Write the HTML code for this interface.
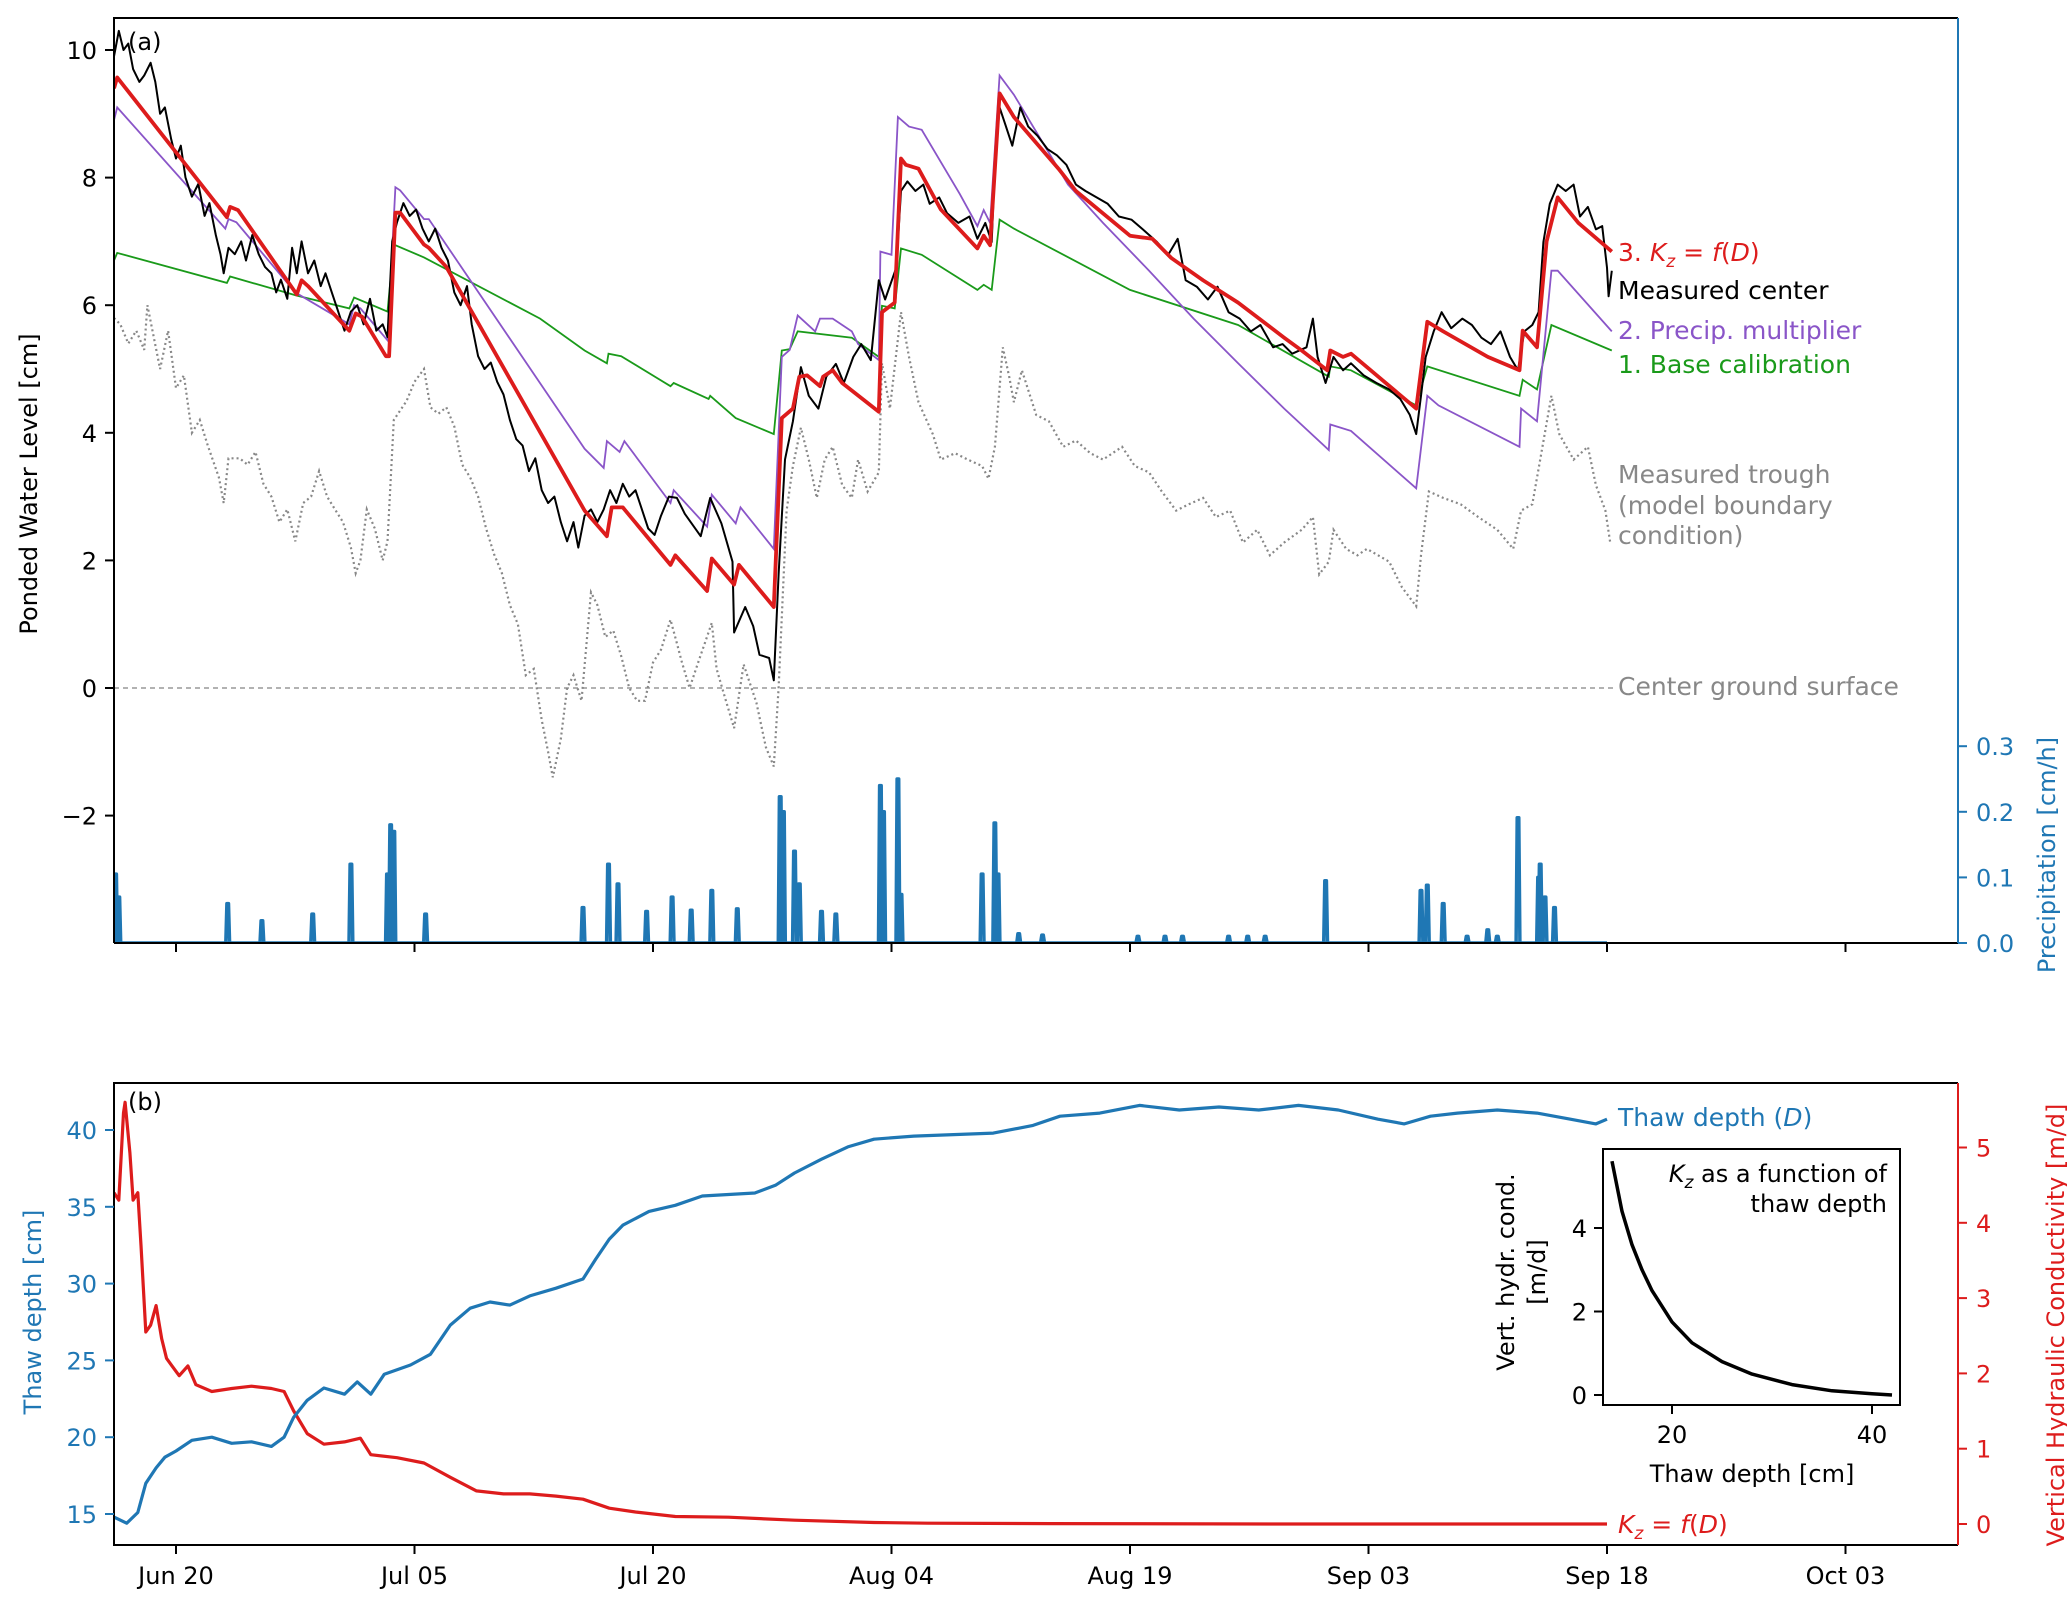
<!DOCTYPE html>
<html><head><meta charset="utf-8">
<style>
html,body{margin:0;padding:0;background:#fff;}
svg{display:block;font-family:"DejaVu Sans","Liberation Sans",sans-serif;}
</style></head>
<body>
<svg id="fig" width="2067" height="1602" viewBox="0 0 2067 1602" xmlns="http://www.w3.org/2000/svg">
<defs>
<clipPath id="clipA"><rect x="114" y="18" width="1844" height="925"/></clipPath>
<clipPath id="clipB"><rect x="114" y="1083" width="1844" height="462"/></clipPath>
</defs>
<g id="panelA"></g>
<g id="panelB"></g>
</svg>
<script>
// ---------- DATA ----------
const dateTickLabels = ['Jun 20','Jul 05','Jul 20','Aug 04','Aug 19','Sep 03','Sep 18','Oct 03'];
const dateTickDays = [0,15,30,45,60,75,90,105];
const levelTicks = [-2,0,2,4,6,8,10];
const precipTicks = [0.0,0.1,0.2,0.3];
const thawTicks = [15,20,25,30,35,40];
const kzTicks = [0,1,2,3,4,5];

const redDays = [-3.9,-3.7,3.2,3.4,3.9,7.6,7.9,8.3,10.9,11.3,11.7,13.2,13.4,13.8,14.1,15.6,15.9,17,25.7,27.1,27.4,28.1,31.1,31.4,33.4,33.7,35.1,35.4,37.6,38.1,38.8,39.2,39.7,40.5,40.7,41.3,41.9,44.2,44.4,45.2,45.6,45.9,46.7,48.1,50.4,50.8,51.2,51.8,52.7,55.5,56.6,60,61.4,62.6,64.6,66.8,69.7,70.8,72.4,72.6,73.4,73.9,78,78.7,79.7,82.5,84.5,84.7,85.6,86.2,86.9,88.2,90.3];
const redVals = [9.4,9.57,7.38,7.54,7.49,6.17,6.39,6.3,5.6,5.87,5.82,5.2,5.2,7.45,7.45,6.95,6.9,6.6,2.78,2.38,2.83,2.83,1.93,2.08,1.52,2.03,1.62,1.93,1.27,4.23,4.38,4.88,4.9,4.73,4.88,4.98,4.78,4.33,5.89,6.04,8.3,8.2,8.14,7.5,6.89,7.09,6.94,9.32,8.95,8.14,7.79,7.09,7.04,6.74,6.39,6.04,5.49,5.29,4.98,5.29,5.19,5.24,4.38,5.74,5.59,5.19,4.98,5.6,5.34,7.0,7.69,7.29,6.84];

const blackDays = [-3.9,-3.6,-3.3,-3.0,-2.7,-2.3,-2.0,-1.6,-1.3,-1.0,-0.7,-0.3,0,0.3,0.6,1,1.4,1.8,2.1,2.5,2.8,3.0,3.3,3.7,4.1,4.4,4.8,5.2,5.6,6.0,6.3,6.6,7.0,7.3,7.6,7.9,8.3,8.7,9.1,9.4,9.8,10.2,10.6,11.0,11.4,11.8,12.2,12.6,13.0,13.3,13.6,13.9,14.3,14.7,15.1,15.5,15.9,16.3,16.7,17.1,17.5,17.9,18.3,18.6,19.0,19.4,19.8,20.2,20.6,21.0,21.4,21.8,22.2,22.6,23.0,23.4,23.8,24.2,24.6,25.0,25.3,25.7,26.1,26.5,26.9,27.3,27.7,28.1,28.5,28.9,29.3,29.7,30.1,30.5,31.0,31.5,32,33,33.6,34.3,35,35.1,35.8,36.3,36.7,37.3,37.6,37.9,38.3,38.8,39.3,39.8,40.4,40.9,41.5,42,42.6,43.1,43.7,44.2,44.6,45.3,45.6,46,46.5,47,47.4,48,48.5,49.2,49.9,50.4,50.9,51.3,51.5,51.8,52.2,52.6,53.1,53.6,54.2,54.8,55.4,56,56.6,57.2,57.9,58.6,59.3,60.1,60.8,61.7,62.4,63,63.5,64.2,64.9,65.5,66.2,66.9,67.6,68.2,69,69.6,70.2,71.1,71.5,71.8,72.3,72.8,73.4,73.9,74.7,75.5,76.3,77,77.6,78,78.3,78.6,79.1,79.6,80.2,80.9,81.5,82.1,82.7,83.3,83.9,84.4,84.8,85.3,85.7,86,86.4,86.9,87.4,87.9,88.3,88.8,89.3,89.7,90,90.1,90.3];
const blackVals = [9.9,10.3,10.0,10.1,9.7,9.5,9.6,9.8,9.5,9.0,9.1,8.6,8.3,8.5,8.0,7.7,7.9,7.4,7.6,7.1,6.8,6.5,6.9,6.8,7.0,6.7,7.1,6.8,6.6,6.5,6.2,6.4,6.1,6.9,6.5,7.0,6.5,6.7,6.3,6.5,6.2,5.9,5.6,5.9,6.0,5.7,6.1,5.6,5.7,5.5,7.0,7.3,7.6,7.4,7.5,7.2,7.0,7.2,6.9,6.7,6.2,6.0,6.3,5.7,5.2,5.0,5.1,4.8,4.6,4.2,3.9,3.8,3.4,3.6,3.1,2.9,3.0,2.6,2.3,2.6,2.2,2.7,2.8,2.6,2.8,3.1,2.9,3.2,3.0,3.1,2.8,2.5,2.4,2.7,3.0,2.98,2.73,2.38,2.98,2.58,1.98,0.87,1.27,0.97,0.52,0.47,0.12,1.78,3.58,4.18,5.03,4.58,4.38,4.88,5.08,4.78,5.19,5.39,5.14,6.39,6.09,6.59,7.79,7.94,7.79,7.89,7.59,7.69,7.44,7.29,7.39,7.04,7.29,6.99,8.2,9.1,8.8,8.5,9.1,8.8,8.65,8.45,8.35,8.2,7.89,7.79,7.69,7.59,7.39,7.34,7.19,6.99,6.79,7.04,6.39,6.29,6.09,6.29,5.89,5.79,5.59,5.69,5.34,5.39,5.24,5.34,5.79,5.19,4.78,5.19,4.98,5.09,4.9,4.78,4.68,4.53,4.28,3.98,4.58,5.19,5.59,5.89,5.64,5.79,5.69,5.49,5.39,5.59,5.19,4.98,5.59,5.69,5.89,6.99,7.59,7.89,7.79,7.89,7.39,7.54,7.19,7.24,6.59,6.14,6.54];

const purpleDays = [-3.9,-3.7,3.1,3.3,3.8,7.5,10.9,11.2,11.6,13.3,13.8,14.1,15.6,15.9,25.7,26.9,27.1,27.9,28.2,31.1,31.3,33.4,33.7,35.2,35.5,37.6,38.1,38.6,39.1,40.2,40.5,41.3,42.5,42.9,44.2,44.3,45.0,45.4,46.1,46.9,49.3,50.4,50.8,51.2,51.8,52.7,56.1,58.3,61.2,64,66.8,69.7,72.5,72.6,73.9,78,78.7,79.4,84.5,84.6,85.6,86.5,86.9,90.3];
const purpleVals = [8.9,9.1,7.2,7.35,7.3,6.2,5.7,6.0,5.95,5.45,7.85,7.8,7.35,7.35,3.75,3.45,3.87,3.7,3.87,2.9,3.1,2.53,3.03,2.58,2.83,2.18,5.19,5.3,5.84,5.59,5.79,5.79,5.59,5.39,5.14,6.84,6.79,8.95,8.8,8.75,7.74,7.24,7.49,7.29,9.6,9.3,7.89,7.29,6.54,5.79,5.09,4.38,3.73,4.13,4.03,3.13,4.58,4.43,3.78,4.38,4.18,6.54,6.54,5.59];

const greenDays = [-3.9,-3.7,3.2,3.4,7.6,10.9,11.2,13.3,13.7,15.6,22.9,25.7,27.1,27.2,28,31.1,31.3,33.5,33.6,35.2,37.6,38.1,38.6,39.1,42.5,44.2,44.4,45.2,45.6,46.9,50.4,50.8,51.3,51.8,52.7,60,66.8,72.5,72.6,73.9,78,78.7,84.5,84.7,85.6,86.5,90.3];
const greenVals = [6.7,6.82,6.35,6.45,6.15,5.95,6.12,5.9,6.95,6.75,5.79,5.29,5.09,5.24,5.2,4.73,4.78,4.53,4.58,4.23,3.98,5.29,5.31,5.59,5.49,5.19,5.99,5.95,6.89,6.79,6.24,6.32,6.24,7.34,7.2,6.24,5.69,4.88,5.04,4.98,4.43,5.04,4.58,4.83,4.68,5.69,5.29];

const troughDays = [-3.9,-3.5,-3,-2.5,-2,-1.8,-1,-0.5,0,0.5,1,1.5,2,2.7,3,3.3,4,4.5,5,5.5,6,6.5,7,7.5,8,8.5,9,9.5,10,10.5,11,11.3,11.6,12,12.5,13,13.3,13.7,14.5,15,15.6,16,16.5,17,17.5,18,18.5,19,19.5,20,20.5,21,21.5,22,22.5,23,23.4,23.7,24.2,24.6,25,25.5,26.1,26.5,27,27.5,28,28.5,29,29.5,30,30.5,31.1,31.5,31.8,32.3,32.8,33.7,34,34.5,35.1,35.7,36.5,37.1,37.6,37.9,38.4,38.8,39.3,39.8,40.3,40.8,41.3,41.9,42.5,42.9,43.5,44.2,44.4,44.9,45.6,46.1,46.7,47.6,48.1,49,49.8,50.7,51.1,51.5,52,52.4,52.7,53.2,54.1,54.9,55.8,56.6,57.5,58.3,59.5,60.3,61.2,62,62.9,63.7,64.6,65.4,66.3,67.1,68,68.8,69.7,70.8,71.5,71.9,72.5,72.8,73.6,74.3,74.9,76.3,77.1,78,78.3,78.8,79.7,80.8,81.9,83.1,84.1,84.6,85.3,85.8,86.5,87,87.9,88.8,89.3,89.9,90.2];
const troughVals = [5.8,5.7,5.4,5.6,5.3,6.0,5.0,5.6,4.7,4.9,4.0,4.2,3.8,3.3,2.9,3.6,3.6,3.5,3.7,3.2,3.0,2.6,2.8,2.3,2.9,3.0,3.4,3.0,2.8,2.6,2.2,1.8,2.0,2.8,2.5,2.0,2.3,4.2,4.5,4.8,5.0,4.4,4.3,4.4,4.1,3.5,3.3,3.0,2.5,2.1,1.8,1.3,1.0,0.2,0.3,-0.5,-1.0,-1.4,-0.8,0.0,0.2,-0.2,1.5,1.3,0.8,0.9,0.5,0.0,-0.2,-0.2,0.4,0.6,1.07,0.7,0.42,0.0,0.37,1.02,0.3,-0.13,-0.63,0.37,-0.23,-0.93,-1.23,0.0,2.78,3.48,4.08,3.58,2.98,3.58,3.78,3.18,2.98,3.58,3.08,3.38,5.09,4.38,5.89,5.19,4.48,3.98,3.58,3.68,3.58,3.48,3.28,3.78,5.34,4.88,4.48,4.98,4.28,4.18,3.78,3.88,3.68,3.58,3.78,3.48,3.38,3.08,2.78,2.88,2.98,2.68,2.78,2.28,2.48,2.08,2.28,2.48,2.68,1.78,1.98,2.48,2.18,2.08,2.18,1.98,1.58,1.28,2.08,3.08,2.98,2.88,2.68,2.48,2.18,2.78,2.88,3.58,4.58,3.98,3.58,3.78,3.18,2.78,2.28];

const precipDays = [-3.8,-3.6,3.25,5.4,8.6,11.0,13.3,13.5,13.7,15.7,25.6,27.2,27.8,29.6,31.2,32.4,33.7,35.3,38.0,38.2,38.9,39.2,40.6,41.5,44.3,44.5,45.4,45.6,50.7,51.5,51.7,53.0,54.5,60.5,62.2,63.3,66.2,67.4,68.5,72.3,78.3,78.7,79.7,81.2,82.5,83.1,84.4,85.7,85.8,86.1,86.7];
const precipVals = [0.105,0.07,0.06,0.034,0.044,0.12,0.105,0.18,0.17,0.044,0.054,0.12,0.09,0.048,0.07,0.05,0.08,0.052,0.223,0.2,0.14,0.09,0.048,0.044,0.24,0.2,0.25,0.074,0.105,0.183,0.105,0.014,0.012,0.01,0.01,0.01,0.01,0.01,0.01,0.095,0.08,0.088,0.06,0.01,0.02,0.01,0.191,0.1,0.12,0.07,0.054];

const thawDays = [-3.9,-3.1,-2.4,-1.9,-1.25,-0.7,0,1,2.25,3.5,4.75,6,6.8,7.4,8.25,9.3,10.6,11.4,12.25,13.1,14.75,16,17.25,18.5,19.75,21,22.25,23.9,25.6,26.4,27.25,28.1,29.75,31.4,33.1,34.75,36.4,37.7,38.9,40.6,42.25,43.9,46.4,48.9,51.4,53.9,55.6,58.1,60.6,63.1,65.6,68.1,70.6,73.1,75.6,77.25,78.9,80.6,83.1,85.6,87.7,89.3,90];
const thawVals = [14.8,14.4,15.1,17.0,18.0,18.7,19.1,19.8,20.0,19.6,19.7,19.4,20.0,21.3,22.4,23.2,22.8,23.6,22.8,24.1,24.7,25.4,27.3,28.4,28.8,28.6,29.2,29.7,30.3,31.6,32.9,33.8,34.7,35.1,35.7,35.8,35.9,36.4,37.2,38.1,38.9,39.4,39.6,39.7,39.8,40.3,40.9,41.1,41.6,41.3,41.5,41.3,41.6,41.3,40.7,40.4,40.9,41.1,41.3,41.1,40.7,40.4,40.7];

const kzDays = [-3.9,-3.6,-3.3,-3.2,-2.9,-2.7,-2.4,-2.2,-1.9,-1.6,-1.25,-0.9,-0.6,-0.25,0.2,0.75,1.25,2.25,3.5,4.75,6,6.8,7.4,8.25,9.3,10.6,11.6,12.25,13.9,15.6,17.25,18.9,20.6,22.25,23.9,25.6,27.25,28.9,31.4,34.75,38.9,43.9,47.25,55,70,90];
const kzVals = [4.4,4.3,5.46,5.6,4.93,4.3,4.4,3.7,2.55,2.64,2.9,2.46,2.2,2.1,1.97,2.1,1.85,1.76,1.8,1.83,1.8,1.76,1.5,1.2,1.06,1.09,1.14,0.92,0.88,0.81,0.62,0.44,0.4,0.4,0.37,0.33,0.21,0.16,0.1,0.09,0.05,0.02,0.01,0.005,0.0,0.0];

const insetDepth = [14,15,16,17,18,20,22,25,28,32,36,40,42];
const insetK = [5.6,4.4,3.6,3.0,2.5,1.75,1.25,0.8,0.5,0.25,0.1,0.03,0.0];
const insetXTicks = [20,40];
const insetYTicks = [0,2,4];

// ---------- SCALES ----------
const xT = t => 176 + t*15.9;
const yA = v => 688 - v*63.8;
const yP = p => 943 - p*656;
const yD = d => 1514 - (d-15)*15.36;
const yK = k => 1524 - k*75.3;
const ix = d => 1672 + (d-20)*10;
const iy = k => 1395 - k*41.75;

const NS='http://www.w3.org/2000/svg';
function mk(tag, attrs, parent){
  const e=document.createElementNS(NS,tag);
  for(const k in attrs) e.setAttribute(k,attrs[k]);
  parent.appendChild(e); return e;
}
function pathFrom(xs, ys, fx, fy){
  return xs.map((x,i)=>(i?'L':'M')+fx(x).toFixed(1)+','+fy(ys[i]).toFixed(1)).join('');
}
function txt(parent, x, y, s, o){
  const e=mk('text',Object.assign({x:x,y:y,'font-size':24},o||{}),parent);
  e.textContent=s; return e;
}
const A=document.getElementById('panelA');
const B=document.getElementById('panelB');

// ---------- PANEL A ----------
let el;
el=mk('line',{x1:114,y1:688,x2:1615,y2:688,stroke:'#999','stroke-width':1.5,'stroke-dasharray':'5,4'},A);



const gA=mk('g',{'clip-path':'url(#clipA)'},A);
// precip baseline + spikes
let pd='M'+xT(-3.9)+','+yP(0)+'L'+xT(90)+','+yP(0);
precipDays.forEach((t,i)=>{ pd+='M'+xT(t-0.12).toFixed(1)+','+yP(0)+'L'+xT(t-0.05).toFixed(1)+','+yP(precipVals[i]).toFixed(1)+'L'+xT(t+0.05).toFixed(1)+','+yP(precipVals[i]).toFixed(1)+'L'+xT(t+0.12).toFixed(1)+','+yP(0); });
el=mk('path',{d:pd,fill:'none',stroke:'#1f77b4','stroke-width':3.5,'stroke-linejoin':'round'},gA);



el=mk('path',{d:pathFrom(troughDays,troughVals,xT,yA),fill:'none',stroke:'#888','stroke-width':2.2,'stroke-dasharray':'2,3'},gA);


el=mk('path',{d:pathFrom(greenDays,greenVals,xT,yA),fill:'none',stroke:'#1a9a1a','stroke-width':1.8},gA);


el=mk('path',{d:pathFrom(purpleDays,purpleVals,xT,yA),fill:'none',stroke:'#8a55c8','stroke-width':1.8},gA);


el=mk('path',{d:pathFrom(blackDays,blackVals,xT,yA),fill:'none',stroke:'#000','stroke-width':2,'stroke-linejoin':'round'},gA);


el=mk('path',{d:pathFrom(redDays,redVals,xT,yA),fill:'none',stroke:'#dd1c1c','stroke-width':3.8,'stroke-linejoin':'round'},gA);



// frame A
el=mk('path',{d:'M114,943V18H1958',fill:'none',stroke:'#000','stroke-width':2},A);


el=mk('line',{x1:114,y1:943,x2:1958,y2:943,stroke:'#000','stroke-width':2},A);


el=mk('line',{x1:1958,y1:18,x2:1958,y2:943,stroke:'#1f77b4','stroke-width':2},A);


dateTickDays.forEach(t=>{ mk('line',{x1:xT(t),y1:943,x2:xT(t),y2:952,stroke:'#000','stroke-width':2},A); });
levelTicks.forEach(v=>{
  mk('line',{x1:105,y1:yA(v),x2:114,y2:yA(v),stroke:'#000','stroke-width':2},A);
  el=txt(A,97,yA(v)+9,(v<0?'\u2212':'')+Math.abs(v),{'text-anchor':'end'});
  
  
});
precipTicks.forEach(p=>{
  mk('line',{x1:1958,y1:yP(p),x2:1967,y2:yP(p),stroke:'#1f77b4','stroke-width':2},A);
  el=txt(A,1976,yP(p)+9,p.toFixed(1),{fill:'#1f77b4'});
  
  
});
el=txt(A,0,0,'Ponded Water Level [cm]',{'text-anchor':'middle',transform:'translate(37,484) rotate(-90)'});


el=txt(A,0,0,'Precipitation [cm/h]',{'text-anchor':'middle',fill:'#1f77b4',transform:'translate(2055,855) rotate(-90)'});


el=txt(A,128,50,'(a)');



const annA=[
 [261,'#dd1c1c','3. '],[299,'#000','Measured center'],[339,'#8a55c8','2. Precip. multiplier'],[373,'#1a9a1a','1. Base calibration'],
 [483,'#888','Measured trough'],[514,'#888','(model boundary'],[544,'#888','condition)'],[695,'#888','Center ground surface']];
annA.forEach(a=>{
  el=txt(A,1618,a[0],a[2],{fill:a[1],'font-size':25});
  
  
  if(a[2]==='3. '){
    const s1=mk('tspan',{'font-style':'italic'},el); s1.textContent='K';
    const s2=mk('tspan',{'font-style':'italic','font-size':17,dy:6},el); s2.textContent='z';
    const s3=mk('tspan',{dy:-6},el); s3.textContent=' = ';
    const s4=mk('tspan',{'font-style':'italic'},el); s4.textContent='f';
    const s5=mk('tspan',{},el); s5.textContent='(';
    const s6=mk('tspan',{'font-style':'italic'},el); s6.textContent='D';
    const s7=mk('tspan',{},el); s7.textContent=')';
  }
});

// ---------- PANEL B ----------
const gB=mk('g',{'clip-path':'url(#clipB)'},B);
el=mk('path',{d:pathFrom(kzDays,kzVals,xT,yK),fill:'none',stroke:'#dd1c1c','stroke-width':3.2,'stroke-linejoin':'round'},gB);


el=mk('path',{d:pathFrom(thawDays,thawVals,xT,yD),fill:'none',stroke:'#1f77b4','stroke-width':3.2,'stroke-linejoin':'round'},gB);



el=mk('path',{d:'M1958,1545H114V1083H1958',fill:'none',stroke:'#000','stroke-width':2},B);


el=mk('line',{x1:1958,y1:1083,x2:1958,y2:1545,stroke:'#dd1c1c','stroke-width':2},B);


dateTickDays.forEach((t,i)=>{
  mk('line',{x1:xT(t),y1:1545,x2:xT(t),y2:1554,stroke:'#000','stroke-width':2},B);
  el=txt(B,xT(t),1584,dateTickLabels[i],{'text-anchor':'middle'});
  
  
});
thawTicks.forEach(d=>{
  mk('line',{x1:105,y1:yD(d),x2:114,y2:yD(d),stroke:'#1f77b4','stroke-width':2},B);
  el=txt(B,97,yD(d)+9,String(d),{'text-anchor':'end',fill:'#1f77b4'});
  
  
});
kzTicks.forEach(k=>{
  mk('line',{x1:1958,y1:yK(k),x2:1967,y2:yK(k),stroke:'#dd1c1c','stroke-width':2},B);
  el=txt(B,1976,yK(k)+9,String(k),{fill:'#dd1c1c'});
  
  
});
el=txt(B,0,0,'Thaw depth [cm]',{'text-anchor':'middle',fill:'#1f77b4',transform:'translate(41,1312) rotate(-90)'});


el=txt(B,0,0,'Vertical Hydraulic Conductivity [m/d]',{'text-anchor':'middle',fill:'#dd1c1c',transform:'translate(2064,1325) rotate(-90)'});


el=txt(B,128,1110,'(b)');



el=txt(B,1618,1126,'Thaw depth (',{fill:'#1f77b4','font-size':25});


(function(){const a=mk('tspan',{'font-style':'italic'},el);a.textContent='D';const b=mk('tspan',{},el);b.textContent=')';})();
el=txt(B,1618,1533,'',{fill:'#dd1c1c','font-size':25});


(function(){
 const s1=mk('tspan',{'font-style':'italic'},el); s1.textContent='K';
 const s2=mk('tspan',{'font-style':'italic','font-size':17,dy:6},el); s2.textContent='z';
 const s3=mk('tspan',{dy:-6},el); s3.textContent=' = ';
 const s4=mk('tspan',{'font-style':'italic'},el); s4.textContent='f';
 const s5=mk('tspan',{},el); s5.textContent='(';
 const s6=mk('tspan',{'font-style':'italic'},el); s6.textContent='D';
 const s7=mk('tspan',{},el); s7.textContent=')';
})();

// ---------- INSET ----------
const gI=mk('g',{},B);


el=mk('rect',{x:1603,y:1149,width:297,height:256,fill:'#fff',stroke:'#000','stroke-width':2},gI);


el=mk('path',{d:pathFrom(insetDepth,insetK,ix,iy),fill:'none',stroke:'#000','stroke-width':3.5,'stroke-linejoin':'round'},gI);


insetXTicks.forEach(d=>{
  mk('line',{x1:ix(d),y1:1405,x2:ix(d),y2:1414,stroke:'#000','stroke-width':2},gI);
  el=txt(gI,ix(d),1443,String(d),{'text-anchor':'middle'});
  
  
});
insetYTicks.forEach(k=>{
  mk('line',{x1:1594,y1:iy(k),x2:1603,y2:iy(k),stroke:'#000','stroke-width':2},gI);
  el=txt(gI,1587,iy(k)+9,String(k),{'text-anchor':'end'});
  
  
});
el=txt(gI,1752,1482,'Thaw depth [cm]',{'text-anchor':'middle'});


el=txt(gI,0,0,'Vert. hydr. cond.',{'text-anchor':'middle',transform:'translate(1514,1272) rotate(-90)'});


el=txt(gI,0,0,'[m/d]',{'text-anchor':'middle',transform:'translate(1545,1272) rotate(-90)'});


el=txt(gI,1887,1182,'',{'text-anchor':'end'});


(function(){
 const s1=mk('tspan',{'font-style':'italic'},el); s1.textContent='K';
 const s2=mk('tspan',{'font-style':'italic','font-size':17,dy:6},el); s2.textContent='z';
 const s3=mk('tspan',{dy:-6},el); s3.textContent=' as a function of';
})();
el=txt(gI,1887,1212,'thaw depth',{'text-anchor':'end'});


</script>
</body></html>
